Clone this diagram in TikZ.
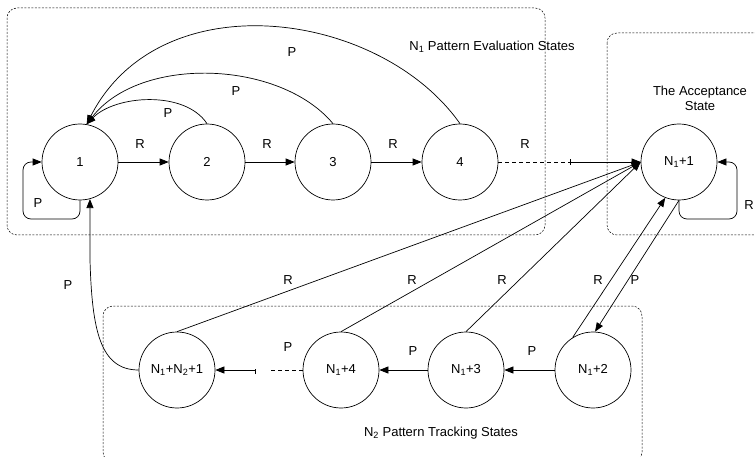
\documentclass[tikz,border=0pt]{standalone}
\usepackage{fontspec}
\setmainfont{Liberation Sans}
\usetikzlibrary{arrows.meta}
\begin{document}
\begin{tikzpicture}[x=1pt,y=-1pt,
  state/.style={circle,draw,line width=0.7pt,minimum size=76pt,inner sep=0pt,font=\fontsize{13}{15}\selectfont},
  lbl/.style={font=\fontsize{13}{15}\selectfont,inner sep=0pt},
  arr/.style={line width=0.7pt,-{Triangle[length=9pt,width=7pt]}},
  ln/.style={line width=0.7pt},
  dsh/.style={line width=0.7pt,dash pattern=on 4pt off 3pt},
  grp/.style={line width=0.5pt,dash pattern=on 2pt off 1.5pt,rounded corners=10pt}]
\useasboundingbox (0,0) rectangle (755,457);
\clip (0,0) rectangle (755,457);
% group boxes
\draw[grp] (7,8) rectangle (545,235);
\draw[grp] (607,33) rectangle (775,235);
\draw[grp] (103,306) rectangle (642,462);
\node[lbl] (g1) at (492,47) {N\textsubscript{1} Pattern Evaluation States};
\node[lbl,align=center] (g2) at (700,98) {The Acceptance\\State};
\node[lbl] (g3) at (441,433) {N\textsubscript{2} Pattern Tracking States};
% states
\node[state] (n1) at (80,162) {1};
\node[state] (n2) at (207,162) {2};
\node[state] (n3) at (333,162) {3};
\node[state] (n4) at (460,162) {4};
\node[state] (acc) at (679,162) {N\textsubscript{1}+1};
\node[state] (t2) at (593,370) {N\textsubscript{1}+2};
\node[state] (t3) at (466,370) {N\textsubscript{1}+3};
\node[state] (t4) at (341,370) {N\textsubscript{1}+4};
\node[state] (tend) at (177,370) {N\textsubscript{1}+N\textsubscript{2}+1};
% top row
\draw[arr] (n1) -- (n2);
\draw[arr] (n2) -- (n3);
\draw[arr] (n3) -- (n4);
\coordinate (m4) at (570,162);
\draw[dsh] (n4.east) -- (m4);
\draw[arr] (m4) -- (acc.west);
\draw[ln] ([yshift=-3pt]m4) -- ([yshift=3pt]m4);
\node[lbl] (r12) at (140,144) {R};
\node[lbl] (r23) at (267,144) {R};
\node[lbl] (r34) at (393,144) {R};
\node[lbl] (r4a) at (525,144) {R};
% back arcs
\draw[arr] (n2.north) .. controls (185,90) and (115,95) .. (n1.80);
\draw[arr] (n3.north) .. controls (280,60) and (140,55) .. (n1.80);
\draw[arr] (n4.north) .. controls (380,10) and (160,-20) .. (n1.80);
\node[lbl] (p21) at (168,113) {P};
\node[lbl] (p31) at (236,91) {P};
\node[lbl] (p41) at (292,52) {P};
% self loops
\coordinate (l1) at (23,219);
\draw[arr,rounded corners=8pt] (n1.south) |- (l1) |- (n1.west);
\node[lbl] (p11) at (38,203) {P};
\coordinate (la) at (737,219);
\draw[arr,rounded corners=8pt] (acc.south) |- (la) |- (acc.east);
\node[lbl] (raa) at (749,205) {R};
% lines into acceptance
\draw[arr] (tend.north) -- (acc.west);
\draw[arr] (t4.north) -- (acc.west);
\draw[arr] (t3.north) -- (acc.west);
\draw[arr] (t2.122) -- (acc.-111);
\draw[arr] (acc.south) -- (t2.87);
\node[lbl] (r1) at (288,280) {R};
\node[lbl] (r2) at (412,280) {R};
\node[lbl] (r3) at (502,280) {R};
\node[lbl] (r4) at (598,280) {R};
\node[lbl] (pa) at (635,280) {P};
% bottom row
\draw[arr] (t2) -- (t3);
\draw[arr] (t3) -- (t4);
\coordinate (mb1) at (268,370);
\coordinate (mb2) at (255,370);
\draw[dsh] (t4.west) -- (mb1);
\draw[arr] (mb2) -- (tend.east);
\draw[ln] ([yshift=-4pt]mb2) -- ([yshift=1pt]mb2);
\node[lbl] (p23) at (532,351) {P};
\node[lbl] (p34) at (413,351) {P};
\node[lbl] (p4e) at (288,347) {P};
% back to 1
\draw[arr] (tend.west) .. controls (100,370) and (92,330) .. (90,260) -- (n1.-75);
\node[lbl] (pe1) at (68,285) {P};
\end{tikzpicture}
\end{document}
